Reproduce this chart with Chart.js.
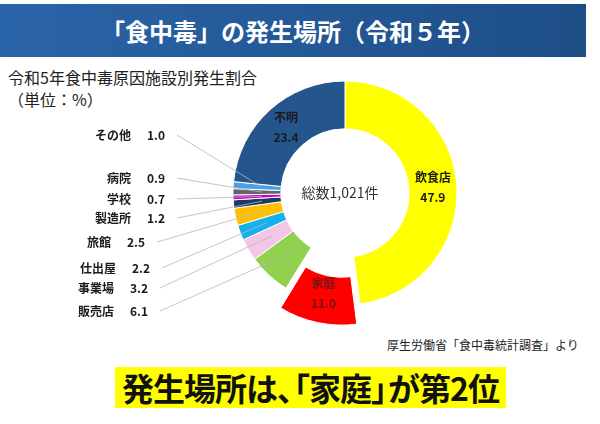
<!DOCTYPE html>
<html><head><meta charset="utf-8">
<script src="https://cdn.jsdelivr.net/npm/chart.js@4"></script>
<style>
body{margin:0;width:600px;height:424px;position:relative;background:#fff;font-family:"Noto Sans CJK JP",sans-serif;overflow:hidden}
#banner{position:absolute;left:0;top:4px;width:586px;height:53px;background:linear-gradient(90deg,#2a64a8,#1d4e86);color:#fff;font-weight:bold;font-size:24px;line-height:53px;text-align:center}
#sub{position:absolute;left:8px;top:66px;font-size:16px;line-height:22px;color:#222}
#src{position:absolute;left:387px;top:336px;font-size:12px;color:#222}
#box{position:absolute;left:115px;top:367px;width:391px;height:41px;background:#ffff00;font-weight:bold;font-size:32px;line-height:41px;text-align:center;color:#111;white-space:nowrap;letter-spacing:-1px}
canvas{position:absolute;left:0;top:0}
</style></head><body>
<div id="banner">「食中毒」の発生場所（令和５年）</div>
<div id="sub">令和5年食中毒原因施設別発生割合<br>（単位：%）</div>
<div id="src">厚生労働省「食中毒統計調査」より</div>
<div id="box">発生場所は、<span style="margin-left:-14px">「</span>家庭<span style="margin-right:-14px">」</span>が第2位</div>
<canvas id="c" width="600" height="424"></canvas>
<script>
const labels = ["飲食店", "家庭", "販売店", "事業場", "仕出屋", "旅館", "製造所", "学校", "病院", "その他", "不明"];
const values = [47.9, 11.0, 6.1, 3.2, 2.2, 2.5, 1.2, 0.7, 0.9, 1.0, 23.4];
const colors = ["#ffff00", "#ff0000", "#92d050", "#f4c6e6", "#15b0f0", "#ffc000", "#1f3864", "#cc00cc", "#666666", "#4a9ee8", "#24558c"];
const totalText = "総数1,021件";

// where the outside labels sit (left side)
const outside = {
  "その他": [135, 135], "病院": [135, 178], "学校": [135, 199], "製造所": [135, 218],
  "旅館": [115, 242], "仕出屋": [120, 268], "事業場": [118, 288], "販売店": [118, 311]
};
const inside = ["飲食店", "家庭", "不明"];
const pull = 60; // offset for 家庭 (chart.js draws a quarter of it)

const labelPlugin = {
  id: "labelPlugin",
  afterDraw(chart) {
    const c = chart.ctx;
    const arcs = chart.getDatasetMeta(0).data;
    c.save();
    c.fillStyle = "#333";
    c.font = "14px 'Noto Sans CJK JP'";
    c.textAlign = "center";
    c.textBaseline = "middle";
    c.fillText(totalText, arcs[0].x - 5, arcs[0].y);
    arcs.forEach((a, i) => {
      const mid = (a.startAngle + a.endAngle) / 2;
      const name = labels[i];
      if (inside.includes(name)) {
        const r = (a.innerRadius + a.outerRadius) / 2 + (name === "家庭" ? pull / 4 : 0);
        const x = a.x + Math.cos(mid) * r, y = a.y + Math.sin(mid) * r;
        c.font = "bold 12px 'Noto Sans CJK JP'";
        c.fillStyle = name === "家庭" ? "#7a1010" : "#1a1a1a";
        c.fillText(name, x, y - 10);
        c.fillText(values[i].toFixed(1), x, y + 10);
      } else if (outside[name]) {
        const [tx, ty] = outside[name];
        const r = a.innerRadius + (a.outerRadius - a.innerRadius) * 0.4;
        const px = a.x + Math.cos(mid) * r, py = a.y + Math.sin(mid) * r;
        c.strokeStyle = "#b8b8b8";
        c.lineWidth = 0.8;
        c.beginPath();
        c.moveTo(tx + 34 + 8, ty);
        c.lineTo(px, py);
        c.stroke();
        c.font = "bold 12px 'Noto Sans CJK JP'";
        c.fillStyle = "#1a1a1a";
        c.textAlign = "right";
        c.fillText(name, tx - 4, ty);
        c.textAlign = "left";
        c.fillText(values[i].toFixed(1), tx + 12, ty);
        c.textAlign = "center";
      }
    });
    c.restore();
  }
};

new Chart("c", {
  type: "doughnut",
  data: {
    labels: labels,
    datasets: [{
      data: values,
      backgroundColor: colors,
      borderColor: "#ffffff",
      borderWidth: 1,
      offset: labels.map(l => (l === "家庭" ? pull : 0)),
    }],
  },
  options: {
    responsive: false,
    animation: false,
    radius: 112,
    cutout: 57,
    layout: { padding: { left: 215, right: 125, top: 63, bottom: 101 } },
    plugins: { legend: { display: false }, tooltip: { enabled: false } },
  },
  plugins: [labelPlugin],
});
</script>
</body></html>
